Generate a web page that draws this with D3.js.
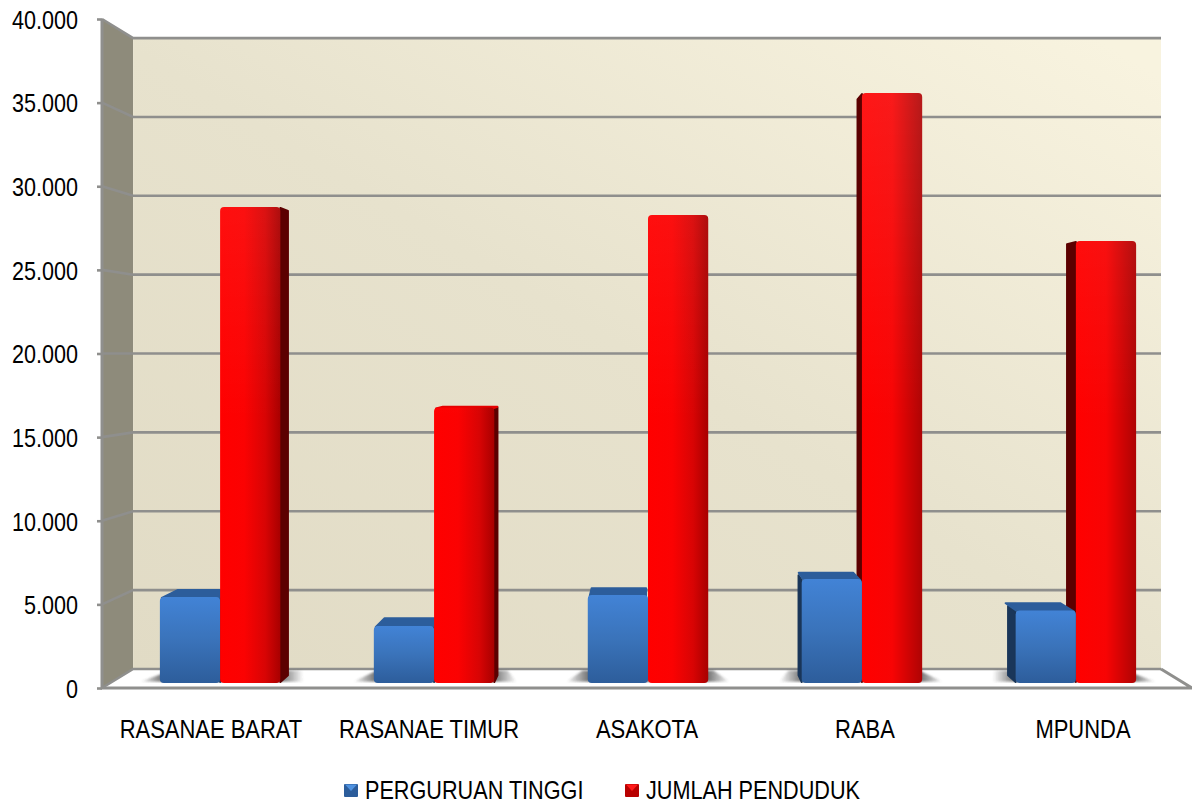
<!DOCTYPE html>
<html><head><meta charset="utf-8">
<script src="https://cdn.jsdelivr.net/npm/d3@7"></script>
<style>html,body{margin:0;background:#fff}svg{display:block}text{font-family:"Liberation Sans",Arial,sans-serif;fill:#000}</style>
</head><body><svg id="c" width="1192" height="807"></svg>
<script>
const categories=["RASANAE BARAT","RASANAE TIMUR","ASAKOTA","RABA","MPUNDA"];
const seriesNames=["PERGURUAN TINGGI","JUMLAH PENDUDUK"];
const perguruanTinggi=[5220,3460,5340,6310,4400];
const jumlahPenduduk=[28890,16720,28400,35810,26830];
const yTicks=[0,5000,10000,15000,20000,25000,30000,35000,40000];

const svg=d3.select("#c"),defs=svg.append("defs");
const xLabels=d3.scaleBand().domain(categories).range([102,1192]);
const x0=d3.scaleBand().domain(categories).range([105,1191]).paddingInner(.437).paddingOuter(.2185);
const x1=d3.scaleBand().domain(seriesNames).range([0,x0.bandwidth()]);
const y=d3.scaleLinear().domain([0,40000]).range([688,19]);
const vx=648,vy=354;
// perspective scale by depth: 0 = front of the frame, 1 = back wall
const depth=d3.scaleLinear().domain([0,1]).range([1,.943]);
const P=(mx,my,t)=>{const s=depth(t);return [vx+(mx-vx)*s,vy+(my-vy)*s]};
const path=pts=>"M"+pts.map(p=>p.join(",")).join("L")+"Z";
const fmt=d3.formatLocale({decimal:",",thousands:".",grouping:[3],currency:["",""]}).format(",d");
const grid="#8f8f8d",barF=.263,barB=.62,barTop=.82;
const squeeze=(sel,x,yy,k)=>sel.attr("x",0).attr("y",0).attr("transform",function(d){return `translate(${typeof x==="function"?x(d):x},${yy}) scale(${k},1)`});

function grad(id,stops,a){const g=defs.append("linearGradient").attr("id",id);
  Object.entries(a||{}).forEach(([k,v])=>g.attr(k,v));
  stops.forEach(([o,c,op])=>g.append("stop").attr("offset",o).attr("stop-color",c).attr("stop-opacity",op==null?1:op));}
grad("wall",[[0,"#e1dbc5"],[.508,"#e7e2cd"],[1,"#f8f3df"]],{gradientUnits:"userSpaceOnUse",x1:-125,y1:511,x2:417,y2:-377});
grad("blueF",[[0,"#4283d6"],[.5,"#3a73ba"],[1,"#2d5d9b"]],{x1:0,y1:0,x2:0,y2:1});
grad("redL",[[0,"#ff0000"],[.4,"#fb0202"],[.75,"#d80404"],[1,"#a80000"]]);
grad("redR",[[0,"#ff0000"],[.5,"#f80404"],[1,"#ae0404"]]);
grad("shine",[[0,"#ffffff",.09],[1,"#ffffff",0]],{gradientUnits:"userSpaceOnUse",x1:0,y1:90,x2:0,y2:420});
grad("shadow",[[0,"#444",0],[.16,"#555",.95],[.84,"#555",.95],[1,"#444",0]]);
defs.append("filter").attr("id","soft").append("feGaussianBlur").attr("stdDeviation",1.2);

const g=svg.append("g");
const xL=102,xR=1192,yB=y(0),yT=y(40000);
// walls and floor
g.append("path").attr("d",path([P(xL,yT,0),P(xL,yT,1),P(xL,yB,1),P(xL,yB,0)])).attr("fill","#8e8b7b");
g.append("path").attr("d",path([P(xL,yT,1),P(xR,yT,1),P(xR,yB,1),P(xL,yB,1)])).attr("fill","url(#wall)");
g.append("path").attr("d",path([P(xL,yB,0),P(xL,yB,1),P(xR,yB,1),P(xR,yB,0)])).attr("fill","#fff");
// gridlines with wall diagonals
yTicks.forEach(v=>{
  const a=P(xL,y(v),0),b=P(xL,y(v),1),c=P(xR,y(v),1);
  g.append("path").attr("d",`M${a}L${b}L${c}`).attr("fill","none").attr("stroke",grid).attr("stroke-width",2.6);
});
g.append("path").attr("d",`M${P(xL,yT,0)}L${P(xL,yB,0)}L${P(xR,yB,0)}L${P(xR,yB,1)}`).attr("fill","none").attr("stroke",grid).attr("stroke-width",3);

// floor shadows
categories.forEach(c=>{
  const a=x0(c)-22,b=x0(c)+x0.bandwidth()+22;
  g.append("path").attr("d",path([P(a,yB,.33),P(a+14,yB,.92),P(b-14,yB,.92),P(b,yB,.33)]))
   .attr("fill","url(#shadow)").attr("filter","url(#soft)");
});

// bars
const bars=[];
categories.forEach((c,i)=>{
  bars.push({c,s:seriesNames[0],v:perguruanTinggi[i],i});
  bars.push({c,s:seriesNames[1],v:jumlahPenduduk[i],i});
});
bars.forEach(d=>{d.a=x0(d.c)+x1(d.s);d.b=d.a+x1.bandwidth();d.far=Math.abs((d.a+d.b)/2-vx);});
bars.sort((p,q)=>q.far-p.far);
const rnd=(s,c)=>s.attr("fill",c).attr("stroke",c).attr("stroke-linejoin","round").attr("stroke-width",2);
bars.forEach(d=>{
  const blue=d.s===seriesNames[0],ym=y(d.v)+1;
  const sideC=blue?"#1a3659":"#5c0000",topC=blue?"#2c5d9b":"#e60000";
  if(d.b<vx-1) rnd(g.append("path").attr("d",path([P(d.b,ym,barF),P(d.b,ym,barB),P(d.b,yB-1,barB),P(d.b,yB-1,barF)])),sideC);
  if(d.a>vx+1) rnd(g.append("path").attr("d",path([P(d.a,ym,barF),P(d.a,ym,barB),P(d.a,yB-1,barB),P(d.a,yB-1,barF)])),sideC);
  if(ym>vy) rnd(g.append("path").attr("d",path([P(d.a+2,ym,barF),P(d.a+2,ym,barTop),P(d.b-2,ym,barTop),P(d.b-2,ym,barF)])),topC);
  const tl=P(d.a,y(d.v),barF),br=P(d.b,yB,barF);
  const fill=blue?"url(#blueF)":(d.i<3?"url(#redL)":"url(#redR)");
  const R=()=>g.append("rect").attr("x",tl[0]).attr("y",tl[1]).attr("width",br[0]-tl[0]).attr("height",br[1]-tl[1]).attr("rx",4);
  R().attr("fill",fill);
  if(!blue) R().attr("fill","url(#shine)");
});

// y axis
const ax=svg.append("g").attr("transform",`translate(${xL},0)`).call(
  d3.axisLeft(y).tickValues(yTicks).tickFormat(v=>fmt(v)).tickSize(5));
ax.select(".domain").remove();
ax.selectAll(".tick line").attr("stroke",grid).attr("stroke-width",2.6);
ax.selectAll("text").attr("font-size",26).attr("dy","0.36em").attr("text-anchor","end");
squeeze(ax.selectAll("text"),-24,0,.83);
// category labels
squeeze(svg.append("g").selectAll("text").data(categories).join("text")
  .attr("text-anchor","middle").attr("font-size",26).text(c=>c),
  c=>xLabels(c)+xLabels.bandwidth()/2,738,.845);
// legend
const leg=d3.scaleOrdinal().domain(seriesNames).range([344,625]);
const lg=svg.append("g");
seriesNames.forEach((s,i)=>{
  const X=leg(s),b=i===0;
  lg.append("rect").attr("x",X).attr("y",784).attr("width",14).attr("height",13).attr("rx",1).attr("fill",b?"#2c5d9b":"#b80000");
  lg.append("path").attr("d",`M${X+1},784.5L${X+13},784.5L${X+7},791Z`).attr("fill",b?"#4f92e0":"#ff1a1a");
  squeeze(lg.append("text").attr("font-size",26).text(s),X+21,799,.833);
});
</script></body></html>
